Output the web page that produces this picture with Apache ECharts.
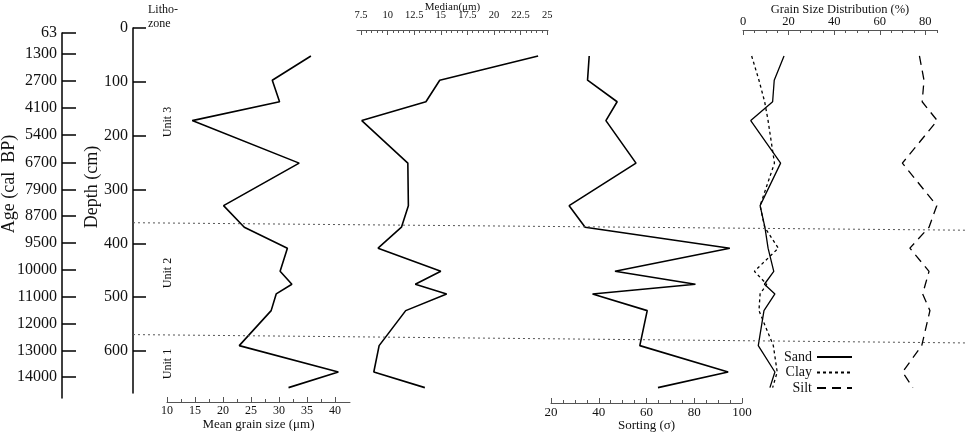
<!DOCTYPE html>
<html><head><meta charset="utf-8">
<script src="https://cdn.jsdelivr.net/npm/echarts@6/dist/echarts.min.js"></script>
<style>html,body{margin:0;padding:0;background:#fff}#c{width:969px;height:435px}</style>
</head><body><div id="c"></div>
<script>
// ---- data ----
const depths     = [52, 97, 137, 172, 251, 330, 370, 409, 452, 476, 494, 525, 590, 639, 668];
const meanGrain  = [35.7, 28.8, 30.1, 14.5, 33.6, 20.1, 23.8, 31.5, 30.2, 32.3, 29.5, 28.6, 22.9, 40.6, 31.7];
const median     = [24.15, 14.9, 13.6, 7.57, 11.9, 11.95, 11.3, 9.1, 15.0, 12.6, 15.55, 11.7, 9.2, 8.7, 13.5];
const sorting    = [36.0, 35.3, 47.7, 43.0, 55.6, 27.6, 34.3, 94.9, 46.8, 80.5, 37.4, 60.3, 57.2, 94.2, 64.8];
const sand       = [18.0, 13.7, 13.0, 3.4, 16.5, 7.5, 9.6, 11.0, 13.5, 9.4, 14.0, 9.2, 6.7, 14.0, 11.8];
const clay       = [3.8, 7.0, 9.5, 11.0, 13.8, 7.5, 9.5, 15.5, 5.0, 10.4, 7.5, 7.0, 13.3, 15.0, 13.0];
const silt       = [77.4, 79.4, 78.6, 85.2, 69.9, 85.0, 81.6, 73.2, 81.6, 80.0, 78.8, 82.0, 78.4, 70.0, 74.5];
const ageLabels  = ['63','1300','2700','4100','5400','6700','7900','8700','9500','10000','11000','12000','13000','14000'];
const ageDepths  = [9.3, 48, 98, 149, 199, 250, 300, 350, 400, 450, 500, 550, 601, 648];
const depthTicks = [0, 100, 200, 300, 400, 500, 600];
const meanTicks  = [10, 15, 20, 25, 30, 35, 40];
const meanMinor  = [12.5, 17.5, 22.5, 27.5, 32.5, 37.5];
const medTicks   = [7.5, 10, 12.5, 15, 17.5, 20, 22.5, 25];
const medMinor   = [8, 8.5, 9, 9.5, 10.5, 11, 11.5, 12, 13, 13.5, 14, 14.5, 15.5, 16, 16.5, 17, 18, 18.5, 19, 19.5, 20.5, 21, 21.5, 22, 23, 23.5, 24, 24.5];
const sortTicks  = [20, 40, 60, 80, 100];
const sortMinor  = [25, 30, 35, 45, 50, 55, 65, 70, 75, 85, 90, 95];
const gsdTicks   = [0, 20, 40, 60, 80];
const gsdMinor   = [5, 10, 15, 25, 30, 35, 45, 50, 55, 65, 70, 75, 85];
const unitBounds = [[361.7, 375.6], [569.5, 585]];  // lithozone boundaries (depth at left, depth at right)

// ---- chart ----
const FONT = "'Liberation Serif','Times New Roman',serif";
const TXT = '#111';
const AX = '#555';
const pairs = arr => arr.map((v, i) => [v, depths[i]]);

function majorAxis(grid, pos, offset, min, max, ticks, fs, margin, name, nameGap, nameFs) {
  return {
    gridIndex: grid, type: 'value', position: pos, offset: offset, min: min, max: max,
    axisLine: { show: true, onZero: false, lineStyle: { color: AX, width: 1 } },
    axisTick: { show: true, inside: true, length: 5, customValues: ticks, lineStyle: { color: AX, width: 1 } },
    axisLabel: { show: true, customValues: ticks, margin: margin, fontSize: fs, color: TXT, fontFamily: FONT },
    splitLine: { show: false },
    name: name, nameLocation: 'middle', nameGap: nameGap, nameMoveOverlap: false,
    nameTextStyle: { fontSize: nameFs, color: TXT, fontFamily: FONT }
  };
}
function minorAxis(grid, pos, offset, min, max, ticks) {
  return {
    gridIndex: grid, type: 'value', position: pos, offset: offset, min: min, max: max,
    axisLine: { show: false, onZero: false },
    axisTick: { show: true, inside: true, length: 3, customValues: ticks, lineStyle: { color: AX, width: 1 } },
    axisLabel: { show: false },
    splitLine: { show: false }
  };
}
function hiddenY(grid) {
  return { gridIndex: grid, type: 'value', inverse: true, min: 0, max: 678, show: false, splitLine: { show: false } };
}
function g(left, top, width, height) {
  return { left: left, top: top, width: width, height: height, containLabel: false, outerBoundsMode: 'none' };
}

const option = {
  animation: false,
  backgroundColor: '#fff',
  grid: [
    g(62, 33, 1, 365),
    g(133, 28, 1, 365),
    g(167, 28, 183, 365),
    g(357, 28, 191, 365),
    g(551, 28, 191, 365),
    g(743, 28, 194, 365),
    g(133, 28, 832, 365)
  ],
  xAxis: [
    { gridIndex: 0, type: 'value', show: false, min: 0, max: 1 },
    { gridIndex: 1, type: 'value', show: false, min: 0, max: 1 },
    majorAxis(2, 'bottom', 9, 10, 42.68, meanTicks, 12, 3, 'Mean grain size (\u03bcm)', 16.5, 13),
    minorAxis(2, 'bottom', 9, 10, 42.68, meanMinor),
    majorAxis(3, 'top', -2, 7.12, 25.08, medTicks, 10.5, 9, 'Median(\u03bcm)', 17, 11),
    minorAxis(3, 'top', -2, 7.12, 25.08, medMinor),
    majorAxis(4, 'bottom', 10, 20, 100, sortTicks, 13, 3, 'Sorting (\u03c3)', 16, 13),
    minorAxis(4, 'bottom', 10, 20, 100, sortMinor),
    majorAxis(5, 'top', -2, 0, 85.1, gsdTicks, 12.5, 2, 'Grain Size Distribution (%)', 13.5, 12.5),
    minorAxis(5, 'top', -2, 0, 85.1, gsdMinor),
    { gridIndex: 6, type: 'value', show: false, min: 0, max: 1 }
  ],
  yAxis: [
    {
      gridIndex: 0, type: 'value', inverse: true, min: 9.3, max: 688, position: 'left',
      axisLine: { show: true, onZero: false, lineStyle: { color: '#000', width: 1.5 } },
      axisTick: { show: true, inside: true, length: 14, customValues: ageDepths, lineStyle: { color: '#000', width: 1.5 } },
      axisLabel: {
        show: true, customValues: ageDepths, margin: 5, fontSize: 16, color: TXT, fontFamily: FONT,
        formatter: v => { const i = ageDepths.indexOf(v); return i >= 0 ? ageLabels[i] : ''; }
      },
      splitLine: { show: false }
    },
    {
      gridIndex: 1, type: 'value', inverse: true, min: 0, max: 678, position: 'left',
      axisLine: { show: true, onZero: false, lineStyle: { color: '#000', width: 1.5 } },
      axisTick: { show: true, inside: true, length: 13, customValues: depthTicks, lineStyle: { color: '#000', width: 1.5 } },
      axisLabel: { show: true, customValues: depthTicks, margin: 5, fontSize: 16, color: TXT, fontFamily: FONT },
      splitLine: { show: false }
    },
    hiddenY(2), hiddenY(3), hiddenY(4), hiddenY(5), hiddenY(6)
  ],
  legend: {
    data: ['Sand', 'Clay', 'Silt'],
    orient: 'vertical', left: 784, top: 350, align: 'right', padding: 0,
    itemWidth: 35, itemHeight: 14, itemGap: 1.5, selectedMode: false,
    itemStyle: { opacity: 0 },
    textStyle: { fontSize: 14, color: TXT, fontFamily: FONT }
  },
  series: [
    { type: 'line', name: 'Mean', xAxisIndex: 2, yAxisIndex: 2, data: pairs(meanGrain), symbol: 'none', lineStyle: { color: '#000', width: 1.6 } },
    { type: 'line', name: 'Median', xAxisIndex: 4, yAxisIndex: 3, data: pairs(median), symbol: 'none', lineStyle: { color: '#000', width: 1.6 } },
    { type: 'line', name: 'Sorting', xAxisIndex: 6, yAxisIndex: 4, data: pairs(sorting), symbol: 'none', lineStyle: { color: '#000', width: 1.6 } },
    { type: 'line', name: 'Sand', xAxisIndex: 8, yAxisIndex: 5, data: pairs(sand), symbol: 'none', itemStyle: { color: '#000' }, lineStyle: { color: '#000', width: 1.3 } },
    { type: 'line', name: 'Clay', xAxisIndex: 8, yAxisIndex: 5, data: pairs(clay), symbol: 'none', itemStyle: { color: '#000' }, lineStyle: { color: '#000', width: 1.3, type: [3, 3] } },
    { type: 'line', name: 'Silt', xAxisIndex: 8, yAxisIndex: 5, data: pairs(silt), symbol: 'none', itemStyle: { color: '#000' }, lineStyle: { color: '#000', width: 1.3, type: [9, 6] } },
    ...unitBounds.map((b, k) => ({
      type: 'line', name: 'boundary' + k, xAxisIndex: 10, yAxisIndex: 6,
      data: [[0, b[0]], [1, b[1]]], symbol: 'none', silent: true,
      lineStyle: { color: '#555', width: 1, type: [2, 3] }
    }))
  ],
  graphic: [
    { type: 'text', left: 148, top: 4, style: { text: 'Litho-', font: '12px ' + FONT, fill: TXT } },
    { type: 'text', left: 148, top: 18, style: { text: 'zone', font: '12px ' + FONT, fill: TXT } },
    { type: 'text', x: 167.5, y: 122, rotation: Math.PI / 2, style: { text: 'Unit 3', font: '12px ' + FONT, fill: TXT, align: 'center', verticalAlign: 'middle' } },
    { type: 'text', x: 167.5, y: 273, rotation: Math.PI / 2, style: { text: 'Unit 2', font: '12px ' + FONT, fill: TXT, align: 'center', verticalAlign: 'middle' } },
    { type: 'text', x: 167.5, y: 364, rotation: Math.PI / 2, style: { text: 'Unit 1', font: '12px ' + FONT, fill: TXT, align: 'center', verticalAlign: 'middle' } },
    { type: 'text', x: 9, y: 184, rotation: Math.PI / 2, style: { text: 'Age (cal  BP)', font: '18px ' + FONT, fill: TXT, align: 'center', verticalAlign: 'middle' } },
    { type: 'text', x: 92.5, y: 187, rotation: Math.PI / 2, style: { text: 'Depth (cm)', font: '18px ' + FONT, fill: TXT, align: 'center', verticalAlign: 'middle' } }
  ]
};

const chart = echarts.init(document.getElementById('c'), null, { renderer: 'canvas' });
chart.setOption(option);
</script>
</body></html>
